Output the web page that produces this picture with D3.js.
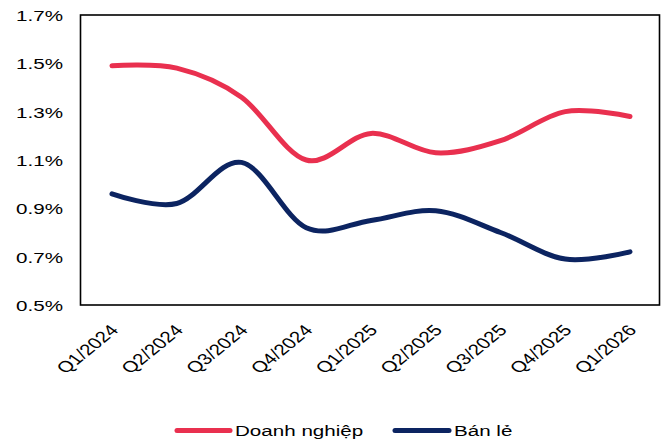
<!DOCTYPE html>
<html>
<head>
<meta charset="utf-8">
<script src="https://cdn.jsdelivr.net/npm/d3@7"></script>
<style>
  html, body { margin: 0; padding: 0; background: #fff; }
  svg { display: block; }
  text { font-family: "Liberation Sans", Arial, sans-serif; fill: #000; }
</style>
</head>
<body>
<svg id="chart" width="664" height="445"></svg>
<script>
// Quarterly series (ratio, shown as %)
const categories = ["Q1/2024", "Q2/2024", "Q3/2024", "Q4/2024", "Q1/2025", "Q2/2025", "Q3/2025", "Q4/2025", "Q1/2026"];
const doanhNghiep = [0.0149, 0.0148, 0.0136, 0.0110, 0.0121, 0.0113, 0.0118, 0.0130, 0.0128];
const banLe = [0.0096, 0.0092, 0.0109, 0.0082, 0.0085, 0.0089, 0.0080, 0.0069, 0.0072];
const yTicks = [0.005, 0.007, 0.009, 0.011, 0.013, 0.015, 0.017];
const seriesNames = ["Doanh nghiệp", "Bán lẻ"];
const seriesColors = ["#E9304F", "#0C2461"];

const svg = d3.select("#chart");
const frame = { left: 80.5, top: 15, right: 659.5, bottom: 305 };
const stretch = 1.33;   // horizontal widening of text glyphs
const fontSize = 15.5;

const x = d3.scalePoint().domain(categories).range([112, 630]);
const y = d3.scaleLinear().domain([0.005, 0.017]).range([frame.bottom, frame.top]);

// plot frame
svg.append("rect")
  .attr("x", frame.left).attr("y", frame.top)
  .attr("width", frame.right - frame.left).attr("height", frame.bottom - frame.top)
  .attr("fill", "none").attr("stroke", "#000").attr("stroke-width", 1.6);

// y axis labels
const yAxis = d3.axisLeft(y).tickValues(yTicks).tickSize(0).tickPadding(0)
  .tickFormat(d3.format(".1%"));
const gy = svg.append("g").attr("transform", "translate(63,0)").call(yAxis);
gy.select(".domain").remove();
gy.selectAll(".tick text")
  .attr("x", 0).attr("dy", "0.35em")
  .attr("font-size", fontSize)
  .attr("font-family", "Liberation Sans, Arial, sans-serif")
  .attr("fill", "#000")
  .attr("transform", `scale(${stretch},1)`);

// x axis labels, rotated
const xAxis = d3.axisBottom(x).tickSize(0).tickPadding(0);
const gx = svg.append("g").attr("transform", `translate(0,${frame.bottom})`).call(xAxis);
gx.select(".domain").remove();
gx.selectAll(".tick text")
  .attr("x", 0).attr("y", 0).attr("dy", 0)
  .attr("text-anchor", "end")
  .attr("font-size", fontSize)
  .attr("font-family", "Liberation Sans, Arial, sans-serif")
  .attr("fill", "#000")
  .attr("transform", `translate(7,26) scale(${stretch},1) rotate(-47)`);

// smoothed lines
const line = d3.line()
  .x((d, i) => x(categories[i]))
  .y(d => y(d))
  .curve(d3.curveCardinal.tension(0));

[doanhNghiep, banLe].forEach((vals, k) => {
  svg.append("path")
    .datum(vals)
    .attr("d", line)
    .attr("fill", "none")
    .attr("stroke", seriesColors[k])
    .attr("stroke-width", 5)
    .attr("stroke-linecap", "round")
    .attr("stroke-linejoin", "round");
});

// legend
const legendY = 430.5;
const legendItems = [
  { x0: 177, x1: 230, tx: 235 },
  { x0: 395, x1: 449, tx: 454 }
];
legendItems.forEach((it, k) => {
  svg.append("line")
    .attr("x1", it.x0).attr("x2", it.x1)
    .attr("y1", legendY).attr("y2", legendY)
    .attr("stroke", seriesColors[k])
    .attr("stroke-width", 5)
    .attr("stroke-linecap", "round");
  svg.append("text")
    .attr("transform", `translate(${it.tx},${legendY}) scale(${stretch},1)`)
    .attr("dy", "0.35em")
    .attr("font-size", fontSize)
    .text(seriesNames[k]);
});
</script>
</body>
</html>
